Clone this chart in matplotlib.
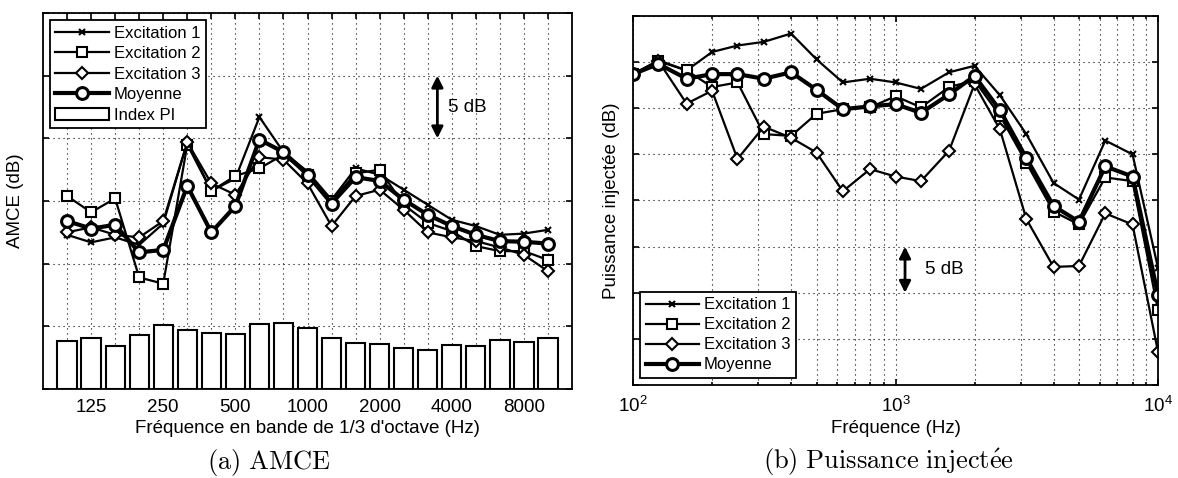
import numpy as np
import matplotlib
matplotlib.use("Agg")
import matplotlib.pyplot as plt
from matplotlib.patches import Patch
from matplotlib.lines import Line2D
from matplotlib.ticker import LogLocator, NullFormatter

plt.rcParams["font.family"] = ["Liberation Sans", "DejaVu Sans"]
plt.rcParams["mathtext.fontset"] = "custom"
plt.rcParams["mathtext.rm"] = "Liberation Sans"
plt.rcParams["mathtext.it"] = "Liberation Sans:italic"
plt.rcParams["mathtext.bf"] = "Liberation Sans:bold"

# bandes de tiers d'octave 100 Hz - 10 kHz
freqs = [100, 125, 160, 200, 250, 315, 400, 500, 630, 800, 1000,
         1250, 1600, 2000, 2500, 3150, 4000, 5000, 6300, 8000, 10000]
band_labels = ["", "125", "", "", "250", "", "", "500", "", "", "1000",
               "", "", "2000", "", "", "4000", "", "", "8000", ""]

# (a) AMCE, dB relatifs
amce_exc1 = [12.3, 11.7, 12.1, 11.5, 13.2, 19.7, 15.8, 16.8, 21.7, 18.9, 17.35,
             15.1, 17.6, 17.1, 15.9, 14.7, 13.5, 13.0, 12.3, 12.4, 12.7]
amce_exc2 = [15.4, 14.1, 15.2, 8.9, 8.4, 19.5, 15.8, 17.0, 17.6, 18.7, 17.1,
             15.0, 17.2, 17.5, 14.7, 13.25, 12.6, 11.4, 11.0, 11.0, 10.3]
amce_exc3 = [12.5, 12.9, 12.3, 12.1, 13.4, 19.7, 16.4, 15.5, 18.5, 18.3, 16.4,
             13.0, 15.4, 15.9, 14.3, 12.5, 12.1, 11.8, 11.3, 10.7, 9.4]
amce_moy = [13.4, 12.8, 13.1, 10.9, 11.1, 16.2, 12.5, 14.6, 19.9, 18.9, 17.1,
            14.8, 16.9, 16.6, 15.1, 13.9, 13.0, 12.3, 11.8, 11.75, 11.6]
index_pi = [3.8, 4.1, 3.4, 4.3, 5.1, 4.7, 4.5, 4.4, 5.2, 5.25, 4.9,
            4.1, 3.7, 3.6, 3.3, 3.1, 3.5, 3.4, 3.9, 3.75, 4.1]

# (b) Puissance injectée, dB relatifs
pui_exc1 = [33.7, 35.2, 34.1, 36.1, 36.8, 37.2, 38.1, 35.3, 32.8, 33.2, 32.8,
            32.1, 33.9, 34.6, 31.4, 27.2, 21.9, 20.1, 26.5, 25.0, 12.7]
pui_exc2 = [33.7, 35.1, 34.1, 32.3, 32.8, 27.2, 27.0, 29.4, 29.9, 30.1, 31.3,
            30.1, 32.3, 33.0, 29.2, 24.1, 18.8, 17.4, 22.5, 22.1, 8.1]
pui_exc3 = [33.7, 35.1, 30.5, 31.9, 24.5, 28.0, 26.8, 25.2, 21.0, 23.4, 22.6,
            22.1, 25.4, 32.6, 27.7, 18.0, 12.8, 12.9, 18.6, 17.4, 3.6]
pui_moy = [33.7, 34.8, 33.2, 33.7, 33.7, 33.2, 33.9, 32.0, 29.9, 30.2, 30.45,
           29.5, 31.5, 33.5, 29.8, 24.6, 19.4, 17.7, 23.7, 22.6, 9.8]

thin = dict(color="black", lw=1.6, mfc="white", mec="black", mew=1.5)
styles = [
    ("Excitation 1", dict(marker="x", ms=5, **thin)),
    ("Excitation 2", dict(marker="s", ms=6.5, **thin)),
    ("Excitation 3", dict(marker="D", ms=6.5, **thin)),
    ("Moyenne", dict(marker="o", ms=8.5, color="black", lw=3.0, mfc="white",
                     mec="black", mew=2.2)),
]

grid_kw = dict(color="black", linestyle=(0, (1, 3.5)), linewidth=0.8)
lab_fs = 13.5

fig = plt.figure(figsize=(11.78, 4.78), dpi=100)

# ---------- (a) AMCE ----------
ax1 = fig.add_axes([0.0365, 0.1862, 0.4491, 0.7866])
idx = np.arange(len(freqs))
ax1.bar(idx, index_pi, width=0.8, color="white", edgecolor="black",
        linewidth=1.5, zorder=2)
for (name, st), vals in zip(styles, [amce_exc1, amce_exc2, amce_exc3, amce_moy]):
    ax1.plot(idx, vals, zorder=3, **st)
ax1.set_xlim(-1, len(freqs))
ax1.set_ylim(0, 30)
ax1.set_xticks(idx)
ax1.set_xticklabels(band_labels, fontsize=lab_fs)
ax1.set_yticks(np.arange(0, 31, 5))
ax1.set_yticklabels([])
ax1.tick_params(direction="in", top=True, right=True, length=4, width=1.2,
                pad=7)
ax1.grid(True, **grid_kw)
ax1.set_axisbelow(True)
ax1.set_xlabel("Fréquence en bande de 1/3 d'octave (Hz)", fontsize=lab_fs,
               labelpad=3)
ax1.set_ylabel("AMCE (dB)", fontsize=lab_fs, labelpad=7)
for s in ax1.spines.values():
    s.set_linewidth(1.3)

h1 = [Line2D([], [], **st) for _, st in styles]
h1.append(Patch(facecolor="white", edgecolor="black", linewidth=1.5))
leg1 = ax1.legend(h1, [n for n, _ in styles] + ["Index PI"], loc="upper left",
                  fontsize=12, handlelength=3.2, borderaxespad=0.4,
                  labelspacing=0.33, handletextpad=0.3, borderpad=0.35,
                  fancybox=False, framealpha=1)
leg1.get_frame().set_edgecolor("black")
leg1.get_frame().set_linewidth(1.3)

ax1.annotate("", xy=(15.4, 20), xytext=(15.4, 25),
             arrowprops=dict(arrowstyle="<|-|>", color="black", lw=2.0,
                             mutation_scale=17, shrinkA=0, shrinkB=0))
ax1.text(15.85, 22.5, "5 dB", fontsize=lab_fs, va="center", ha="left")

# ---------- (b) Puissance injectée ----------
ax2 = fig.add_axes([0.5374, 0.1946, 0.4456, 0.7719])
for (name, st), vals in zip(styles, [pui_exc1, pui_exc2, pui_exc3, pui_moy]):
    ax2.plot(freqs, vals, label=name, **st)
ax2.set_xscale("log")
ax2.set_xlim(100, 10000)
ax2.set_ylim(0, 40)
ax2.set_yticks(np.arange(0, 41, 5))
ax2.set_yticklabels([])
ax2.xaxis.set_minor_locator(LogLocator(base=10, subs=np.arange(2, 10)))
ax2.xaxis.set_minor_formatter(NullFormatter())
ax2.tick_params(axis="x", labelsize=lab_fs, pad=8)
ax2.tick_params(which="both", direction="in", top=True, right=True, width=1.2)
ax2.tick_params(which="major", length=4)
ax2.tick_params(which="minor", length=2.5)
ax2.grid(True, which="both", **grid_kw)
ax2.set_xlabel("Fréquence (Hz)", fontsize=lab_fs, labelpad=3)
ax2.set_ylabel("Puissance injectée (dB)", fontsize=lab_fs, labelpad=6)
for s in ax2.spines.values():
    s.set_linewidth(1.3)

leg2 = ax2.legend(loc="lower left", fontsize=12, handlelength=3.2,
                  borderaxespad=0.4, labelspacing=0.3, handletextpad=0.3,
                  borderpad=0.35, fancybox=False, framealpha=1)
leg2.get_frame().set_edgecolor("black")
leg2.get_frame().set_linewidth(1.3)

ax2.annotate("", xy=(1087, 10), xytext=(1087, 15),
             arrowprops=dict(arrowstyle="<|-|>", color="black", lw=2.0,
                             mutation_scale=17, shrinkA=0, shrinkB=0))
ax2.text(1290, 12.5, "5 dB", fontsize=lab_fs, va="center", ha="left")

# légendes des sous-figures
fig.text(0.228, 0.018, r"$\mathrm{(a)\ AMCE}$", fontsize=19, ha="center",
         va="baseline", math_fontfamily="cm")
fig.text(0.754, 0.018, r"$\mathrm{(b)\ Puissance\ inject\acute{e}e}$",
         fontsize=19, ha="center", va="baseline", math_fontfamily="cm")

fig.savefig("out.png", dpi=100)
